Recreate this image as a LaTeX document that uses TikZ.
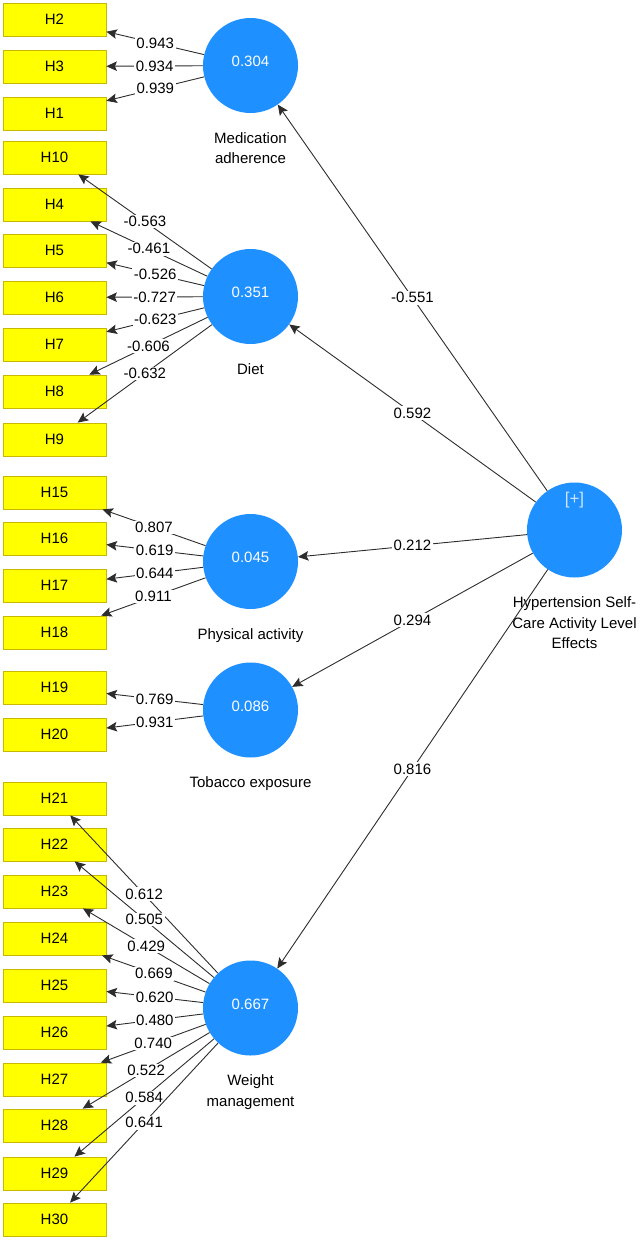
\documentclass[tikz,border=0pt]{standalone}
\usepackage{fontspec}
\setmainfont{Liberation Sans}
\usetikzlibrary{arrows.meta}
\definecolor{lvblue}{RGB}{30,144,255}
\definecolor{mvfill}{RGB}{255,255,0}
\definecolor{mvdraw}{RGB}{200,185,0}
\definecolor{edgec}{RGB}{45,45,45}
\definecolor{plusc}{RGB}{205,228,255}
\begin{document}
\begin{tikzpicture}[x=1pt,y=-1pt,
  mv/.style={draw=mvdraw, line width=0.8pt, fill=mvfill, minimum width=103pt, minimum height=33pt, inner sep=0pt, font=\fontsize{15}{18}\selectfont},
  lv/.style={circle, fill=lvblue, minimum size=95pt, inner sep=0pt, text=white, text depth=8pt, font=\fontsize{15}{18}\selectfont},
  lvname/.style={anchor=north, align=center, inner sep=0pt, font=\fontsize{15}{20.5}\selectfont},
  ld/.style={-{Stealth[length=10.5pt,width=9.5pt,inset=2pt]}, draw=edgec, line width=0.9pt},
  wt/.style={midway, fill=white, inner sep=1.5pt, font=\fontsize{15}{18}\selectfont}
]
\useasboundingbox (0,0) rectangle (642,1240);

% latent variables
\node[lv] (MA) at (250.5,65.5) {0.304};
\node[lv] (DI) at (250.5,296.5) {0.351};
\node[lv] (PA) at (250.5,561.5) {0.045};
\node[lv] (TE) at (250.5,710) {0.086};
\node[lv] (WM) at (250.5,1008) {0.667};
\node[lv] (HY) at (574.5,530) {};
\node[text=plusc, font=\fontsize{17}{20}\selectfont] (plus) at (574.5,500) {[+]};

\node[lvname] (MAt) at (250.5,132) {Medication\\adherence};
\node[lvname] (DIt) at (250.5,363) {Diet};
\node[lvname] (PAt) at (250.5,628) {Physical activity};
\node[lvname] (TEt) at (250.5,776.5) {Tobacco exposure};
\node[lvname] (WMt) at (250.5,1074.5) {Weight\\management};
\node[lvname] (HYt) at (574.5,596.5) {Hypertension Self-\\Care Activity Level\\Effects};

% indicators
\foreach \n/\y in {H2/19.5, H3/66.5, H1/113.5, H10/157.5, H4/204.5, H5/250.5, H6/297.5, H7/344.5, H8/391.5, H9/439.5,
  H15/492.5, H16/538.5, H17/585.5, H18/632.5, H19/687.5, H20/734.5,
  H21/798.5, H22/844.5, H23/891.5, H24/938.5, H25/985.5, H26/1032.5, H27/1079.5, H28/1125.5, H29/1173.5, H30/1219.5}
  \node[mv] (\n) at (54.5,\y) {\n};

% outer loadings
\foreach \n/\v in {H2/0.943, H3/0.934, H1/0.939}
  \draw[ld] (MA) -- node[wt] {\v} (\n);
\foreach \n/\v in {H10/-0.563, H4/-0.461, H5/-0.526, H6/-0.727, H7/-0.623, H8/-0.606, H9/-0.632}
  \draw[ld] (DI) -- node[wt] {\v} (\n);
\foreach \n/\v in {H15/0.807, H16/0.619, H17/0.644, H18/0.911}
  \draw[ld] (PA) -- node[wt] {\v} (\n);
\foreach \n/\v in {H19/0.769, H20/0.931}
  \draw[ld] (TE) -- node[wt] {\v} (\n);
\foreach \n/\v in {H21/0.612, H22/0.505, H23/0.429, H24/0.669, H25/0.620, H26/0.480, H27/0.740, H28/0.522, H29/0.584, H30/0.641}
  \draw[ld] (WM) -- node[wt] {\v} (\n);

% path coefficients
\draw[ld] (HY) -- node[wt] {-0.551} (MA);
\draw[ld] (HY) -- node[wt] {0.592} (DI);
\draw[ld] (HY) -- node[wt] {0.212} (PA);
\draw[ld] (HY) -- node[wt] {0.294} (TE);
\draw[ld] (HY) -- node[wt] {0.816} (WM);
\end{tikzpicture}
\end{document}
